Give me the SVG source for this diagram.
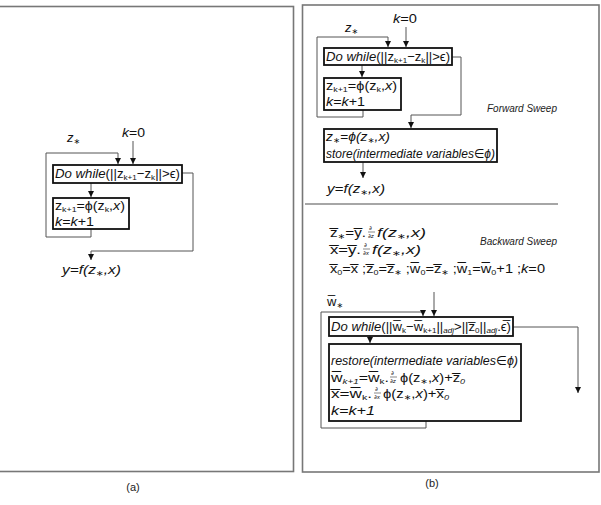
<svg xmlns="http://www.w3.org/2000/svg" width="601" height="505" viewBox="0 0 601 505">
<style>
.panel{fill:none;stroke:#777;stroke-width:1.6}
.box{fill:#fff;stroke:#111;stroke-width:1.8}
.c{fill:none;stroke:#555;stroke-width:1}
.ca{fill:none;stroke:#555;stroke-width:1;marker-end:url(#ah)}
.t{font-family:"Liberation Sans","DejaVu Sans",sans-serif;font-size:13px;fill:#111}
.i{font-style:italic}
.sb{font-size:8px}
.fr{font-family:"DejaVu Sans",sans-serif;font-size:5.5px;fill:#111;font-style:italic}
.cap{font-family:"Liberation Sans",Arial,sans-serif;font-size:11px;fill:#222}
.sw{font-family:"Liberation Sans","DejaVu Sans",sans-serif;font-size:11px;font-style:italic;fill:#222}
</style>
<defs>
<marker id="ah" viewBox="0 0 8 8" refX="8" refY="4" markerWidth="6" markerHeight="6" orient="auto" markerUnits="userSpaceOnUse">
<path d="M0,0 L8,4 L0,8 z" fill="#111"/>
</marker>
</defs>

<rect class="panel" x="-5" y="6.5" width="298.5" height="465"/>
<rect class="panel" x="302.5" y="5" width="296.5" height="467"/>
<line class="c" x1="305" y1="204" x2="558" y2="204" style="stroke:#888;stroke-width:1.4"/>

<g id="connectors">
<path class="ca" d="M133,141 V164"/>
<path class="ca" d="M91,229 V237 H46 V153 H118 V164"/>
<path class="ca" d="M182,173 H193 V251 H91 V260"/>
<path class="ca" d="M91,183 V197"/>
<path class="ca" d="M406,27 V47"/>
<path class="ca" d="M363,110 V117 H317 V37 H388 V47"/>
<path class="ca" d="M452,57 H461 V115 H411 V128"/>
<path class="ca" d="M362,65 V77"/>
<path class="ca" d="M363,162 V178"/>
<path class="ca" d="M434,292 V316"/>
<path class="ca" d="M426,421 V428 H321 V312 H423 V316"/>
<path class="ca" d="M513,327 H578 V393"/>
<path class="ca" d="M370,336 V343"/>
</g>

<g id="a-z0">
<text class="t i" x="67" y="142">z<tspan class="sb" dy="2">∗</tspan></text>
</g>
<g id="a-k0">
<text class="t" x="122" y="137" textLength="23" lengthAdjust="spacingAndGlyphs"><tspan class="i">k</tspan>=0</text>
</g>
<g id="a-while">
<rect class="box" x="53" y="165" width="129" height="18"/>
<text class="t" x="55" y="178" textLength="125" lengthAdjust="spacingAndGlyphs"><tspan class="i">Do while</tspan>(||z<tspan class="sb" dy="2">k+1</tspan><tspan dy="-2">−z</tspan><tspan class="sb" dy="2">k</tspan><tspan dy="-2">||&gt;ϵ)</tspan></text>
</g>
<g id="a-body">
<rect class="box" x="53" y="198" width="76" height="31"/>
<text class="t" x="55" y="210" textLength="70" lengthAdjust="spacingAndGlyphs">z<tspan class="sb" dy="2">k+1</tspan><tspan dy="-2">=ϕ(z</tspan><tspan class="sb" dy="2">k</tspan><tspan dy="-2">,</tspan><tspan class="i">x</tspan>)</text>
<text class="t" x="55" y="226" textLength="39" lengthAdjust="spacingAndGlyphs"><tspan class="i">k</tspan>=<tspan class="i">k</tspan>+1</text>
</g>
<g id="a-y">
<text class="t i" x="62" y="274" textLength="59" lengthAdjust="spacingAndGlyphs">y=f(z<tspan class="sb" dy="2">∗</tspan><tspan dy="-2">,x)</tspan></text>
</g>

<g id="b-k0">
<text class="t" x="393" y="23" textLength="24" lengthAdjust="spacingAndGlyphs"><tspan class="i">k</tspan>=0</text>
</g>
<g id="b-z0">
<text class="t i" x="345" y="32">z<tspan class="sb" dy="2">∗</tspan></text>
</g>
<g id="b-while">
<rect class="box" x="324" y="48" width="128" height="17"/>
<text class="t" x="326" y="61" textLength="124" lengthAdjust="spacingAndGlyphs"><tspan class="i">Do while</tspan>(||z<tspan class="sb" dy="2">k+1</tspan><tspan dy="-2">−z</tspan><tspan class="sb" dy="2">k</tspan><tspan dy="-2">||&gt;ϵ)</tspan></text>
</g>
<g id="b-body">
<rect class="box" x="324" y="78" width="77" height="32"/>
<text class="t" x="326" y="90" textLength="71" lengthAdjust="spacingAndGlyphs">z<tspan class="sb" dy="2">k+1</tspan><tspan dy="-2">=ϕ(z</tspan><tspan class="sb" dy="2">k</tspan><tspan dy="-2">,</tspan><tspan class="i">x</tspan>)</text>
<text class="t" x="326" y="106" textLength="39" lengthAdjust="spacingAndGlyphs"><tspan class="i">k</tspan>=<tspan class="i">k</tspan>+1</text>
</g>
<g id="b-store">
<rect class="box" x="324" y="129" width="173" height="33"/>
<text class="t i" x="326" y="141" textLength="64" lengthAdjust="spacingAndGlyphs">z<tspan class="sb" dy="2">∗</tspan><tspan dy="-2">=ϕ(z</tspan><tspan class="sb" dy="2">∗</tspan><tspan dy="-2">,x)</tspan></text>
<text class="t i" x="326" y="157.5" textLength="169" lengthAdjust="spacingAndGlyphs">store(intermediate variables∈ϕ)</text>
</g>
<g id="b-y">
<text class="t i" x="327" y="193" textLength="58" lengthAdjust="spacingAndGlyphs">y=f(z<tspan class="sb" dy="2">∗</tspan><tspan dy="-2">,x)</tspan></text>
</g>
<g id="fwd-label">
<text class="sw" x="487" y="112" textLength="70" lengthAdjust="spacingAndGlyphs">Forward Sweep</text>
</g>

<g id="bw-init">
<text class="t" x="330" y="237" textLength="36" lengthAdjust="spacingAndGlyphs">z̅<tspan class="sb" dy="2">∗</tspan><tspan dy="-2">=y̅.</tspan></text>
<text class="fr" x="369" y="230">∂</text>
<line x1="368" y1="232" x2="375" y2="232" stroke="#111" stroke-width="0.5"/>
<text class="fr" x="368" y="238">∂z</text>
<text class="t i" x="377" y="237" textLength="49" lengthAdjust="spacingAndGlyphs">f(z<tspan class="sb" dy="2">∗</tspan><tspan dy="-2">,x)</tspan></text>

<text class="t" x="330" y="254" textLength="31" lengthAdjust="spacingAndGlyphs">x̅=y̅.</text>
<text class="fr" x="364" y="247">∂</text>
<line x1="363" y1="249" x2="370" y2="249" stroke="#111" stroke-width="0.5"/>
<text class="fr" x="363" y="255">∂x</text>
<text class="t i" x="372" y="254" textLength="49" lengthAdjust="spacingAndGlyphs">f(z<tspan class="sb" dy="2">∗</tspan><tspan dy="-2">,x)</tspan></text>

<text class="t" x="330" y="273" textLength="215" lengthAdjust="spacingAndGlyphs">x̅<tspan class="sb" dy="2">0</tspan><tspan dy="-2">=x̅ ;z̅</tspan><tspan class="sb" dy="2">0</tspan><tspan dy="-2">=z̅</tspan><tspan class="sb" dy="2">∗</tspan><tspan dy="-2"> ;w̅</tspan><tspan class="sb" dy="2">0</tspan><tspan dy="-2">=z̅</tspan><tspan class="sb" dy="2">∗</tspan><tspan dy="-2"> ;w̅</tspan><tspan class="sb" dy="2">1</tspan><tspan dy="-2">=w̅</tspan><tspan class="sb" dy="2">0</tspan><tspan dy="-2">+1 ;</tspan><tspan class="i">k</tspan>=0</text>
</g>
<g id="bwd-label">
<text class="sw" x="480" y="245" textLength="77" lengthAdjust="spacingAndGlyphs">Backward Sweep</text>
</g>
<g id="b-w0">
<text class="t" x="327" y="306">w̅<tspan class="sb" dy="2">∗</tspan></text>
</g>
<g id="bw-while">
<rect class="box" x="329" y="317" width="184" height="19"/>
<text class="t" x="331" y="331" textLength="180" lengthAdjust="spacingAndGlyphs"><tspan class="i">Do while</tspan>(||w̅<tspan class="sb" dy="2">k</tspan><tspan dy="-2">−w̅</tspan><tspan class="sb" dy="2">k+1</tspan><tspan dy="-2">||</tspan><tspan class="sb i" dy="2">adj</tspan><tspan dy="-2">&gt;||z̅</tspan><tspan class="sb" dy="2">0</tspan><tspan dy="-2">||</tspan><tspan class="sb i" dy="2">adj</tspan><tspan dy="-2">.ϵ̅)</tspan></text>
</g>
<g id="bw-body">
<rect class="box" x="329" y="344" width="192" height="77"/>
<text class="t i" x="331" y="365" textLength="187" lengthAdjust="spacingAndGlyphs">restore(intermediate variables∈ϕ)</text>
<text class="t" x="331" y="382" textLength="58" lengthAdjust="spacingAndGlyphs">w̅<tspan class="sb i" dy="2">k+1</tspan><tspan dy="-2">=w̅</tspan><tspan class="sb" dy="2">k</tspan><tspan dy="-2">.</tspan></text>
<text class="fr" x="391" y="375">∂</text>
<line x1="390" y1="377" x2="397" y2="377" stroke="#111" stroke-width="0.5"/>
<text class="fr" x="390" y="383">∂z</text>
<text class="t" x="400" y="382" textLength="65" lengthAdjust="spacingAndGlyphs">ϕ(z<tspan class="sb" dy="2">∗</tspan><tspan dy="-2">,</tspan><tspan class="i">x</tspan>)+z̅<tspan class="sb i" dy="2">0</tspan></text>
<text class="t" x="331" y="398" textLength="41" lengthAdjust="spacingAndGlyphs">x̅=w̅<tspan class="sb" dy="2">k</tspan><tspan dy="-2">.</tspan></text>
<text class="fr" x="375" y="391">∂</text>
<line x1="374" y1="393" x2="381" y2="393" stroke="#111" stroke-width="0.5"/>
<text class="fr" x="374" y="399">∂x</text>
<text class="t" x="383" y="398" textLength="66" lengthAdjust="spacingAndGlyphs">ϕ(z<tspan class="sb" dy="2">∗</tspan><tspan dy="-2">,</tspan><tspan class="i">x</tspan>)+x̅<tspan class="sb i" dy="2">0</tspan></text>
<text class="t i" x="331" y="415" textLength="44" lengthAdjust="spacingAndGlyphs">k=k+1</text>
</g>

<g id="captions">
<text class="cap" x="133" y="491" text-anchor="middle">(a)</text>
<text class="cap" x="432" y="487" text-anchor="middle">(b)</text>
</g>
</svg>
